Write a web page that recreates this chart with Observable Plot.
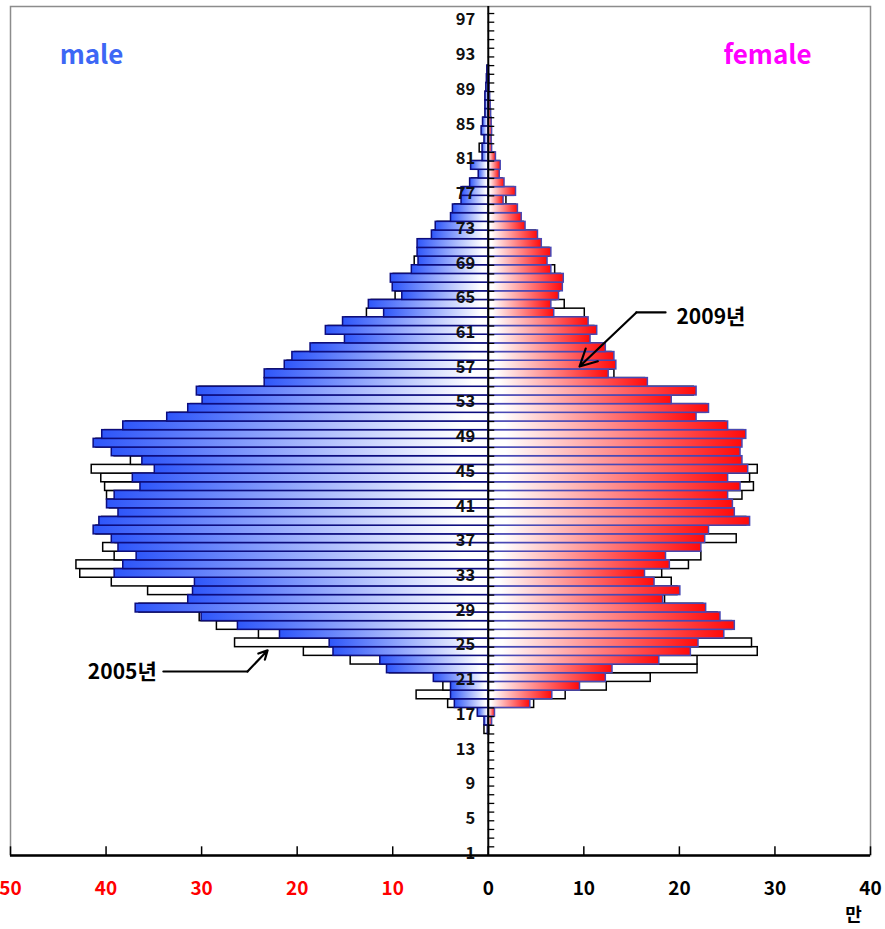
<!DOCTYPE html>
<html>
<head>
<meta charset="utf-8">
<script src="https://cdn.jsdelivr.net/npm/d3@7"></script>
<script src="https://cdn.jsdelivr.net/npm/@observablehq/plot@0.6"></script>
<style>
  html, body { margin: 0; padding: 0; background: #fff; }
</style>
</head>
<body>
<div id="chart"></div>
<script>
// ---- data (population, unit: 만 = 10,000) ----
const ages = [15,16,17,18,19,20,21,22,23,24,25,26,27,28,29,30,31,32,33,34,35,36,37,38,39,40,41,42,43,44,45,46,47,48,49,50,51,52,53,54,55,56,57,58,59,60,61,62,63,64,65,66,67,68,69,70,71,72,73,74,75,76,77,78,79,80,81,82,83,84,85,86,87,88,89,90,91];
const male2009 = [0.05,0.4,1.1,3.5,3.9,3.9,5.7,10.6,11.3,16.2,16.6,21.8,26.2,30.0,36.9,31.4,30.9,30.7,39.1,38.2,36.8,38.7,39.4,41.3,40.7,38.7,39.9,39.1,36.4,37.2,34.9,36.2,39.4,41.3,40.4,38.2,33.6,31.4,29.9,30.5,23.4,23.4,21.3,20.5,18.6,15.0,17.0,15.2,10.9,12.5,9.0,10.0,10.2,8.0,7.3,7.4,7.4,5.9,5.5,3.9,3.7,2.8,2.8,1.9,1.0,1.8,0.6,0.6,0.4,0.7,0.55,0.3,0.3,0.3,0.2,0.15,0.1];
const female2009 = [0.05,0.4,0.7,4.4,6.7,9.6,12.3,13.0,17.9,21.2,22.0,24.7,25.8,24.3,22.8,18.3,20.1,17.4,16.4,19.0,18.6,22.3,22.7,23.1,27.4,25.8,25.6,25.1,26.4,25.1,27.2,26.6,26.4,26.6,27.0,25.1,21.8,23.1,19.2,21.8,16.7,12.6,13.4,13.2,12.3,10.7,11.4,10.5,6.9,6.6,7.4,7.8,7.9,6.6,6.2,6.6,5.6,5.2,3.9,3.5,3.1,1.6,2.9,1.7,1.2,1.3,0.8,0.4,0.35,0.4,0.35,0.3,0.25,0.2,0.15,0.15,0.1];
const male2005 = [0.4,0.3,1.0,4.2,7.5,4.7,5.5,10.3,14.4,19.3,26.5,24.0,28.4,30.2,36.5,31.2,35.6,39.4,42.7,43.1,39.1,40.3,39.0,41.0,40.4,38.4,39.6,39.9,40.1,40.5,41.5,37.4,39.1,41.0,40.1,37.9,33.3,31.1,29.6,30.2,23.1,23.1,21.0,20.2,18.3,14.7,16.7,14.9,12.7,12.2,9.7,9.7,9.9,7.8,7.7,7.2,7.2,5.7,5.3,3.7,3.5,2.6,2.6,1.7,0.9,1.6,0.5,0.9,0.3,0.6,0.5,0.25,0.25,0.25,0.15,0.1,0.05];
const female2005 = [0.1,0.3,0.6,4.8,8.1,12.4,17.0,21.9,21.9,28.2,27.6,24.5,25.5,24.0,22.5,18.5,19.8,19.2,18.2,21.0,22.3,22.0,26.0,22.8,27.0,25.5,25.3,26.6,27.8,27.4,28.2,26.3,26.1,26.3,26.7,24.8,21.5,22.8,18.9,21.5,16.4,13.2,13.1,12.9,12.0,10.4,11.1,10.2,10.1,8.0,7.1,7.5,7.6,7.0,6.0,6.4,5.4,5.0,3.7,3.3,2.9,1.9,2.7,1.5,1.1,1.2,0.7,0.3,0.3,0.3,0.3,0.25,0.2,0.15,0.1,0.1,0.05];

const ageTicks = [1,5,9,13,17,21,25,29,33,37,41,45,49,53,57,61,65,69,73,77,81,85,89,93,97];
const valueTicks = [-50,-40,-30,-20,-10,0,10,20,30,40];
const seriesNames = ["male", "female"];
const unitLabel = "만";
const notes = [
  {label: "2005년", tx: -38.3, ty: 21.85, path: [[-34.0, 21.97], [-25.2, 21.97], [-23.1, 24.4]]},
  {label: "2009년", tx: 23.3, ty: 62.75, path: [[18.55, 63.33], [15.5, 63.33], [9.55, 57.1]]}
];

// ---- build table ----
const rows = ages.map((a, i) => ({age: a, m09: male2009[i], f09: female2009[i], m05: male2005[i], f05: female2005[i]}));
const yMin = 0.77, yMax = 98.58;
const band = 0.23;
const boundaries = d3.range(1, 98).map(k => k + yMin);

const boldFont = "'Noto Sans CJK KR', 'DejaVu Sans', sans-serif";

const svg = Plot.plot({
  width: 885,
  height: 929,
  marginLeft: 10,
  marginRight: 15,
  marginTop: 6,
  marginBottom: 74,
  x: {domain: [-50, 40], axis: null},
  y: {domain: [yMin, yMax], axis: null},
  color: {type: "identity"},
  style: {fontFamily: boldFont, background: "white"},
  marks: [
    Plot.frame({stroke: "#8c8c8c", strokeWidth: 1.5}),
    // 2005 outlines
    Plot.rect(rows, {x1: d => -d.m05, x2: 0, y1: d => d.age - band, y2: d => d.age + 1 - band, fill: "white", stroke: "black", strokeWidth: 1.5}),
    Plot.rect(rows, {x1: 0, x2: d => d.f05, y1: d => d.age - band, y2: d => d.age + 1 - band, fill: "white", stroke: "black", strokeWidth: 1.5}),
    // 2009 bars
    Plot.rect(rows, {x1: d => -d.m09, x2: 0, y1: d => d.age - band, y2: d => d.age + 1 - band, fill: "url(#gMale)", stroke: "#0c0c7e", strokeWidth: 1.5}),
    Plot.rect(rows, {x1: 0, x2: d => d.f09, y1: d => d.age - band, y2: d => d.age + 1 - band, fill: "url(#gFemale)", stroke: "#4848b4", strokeWidth: 1.5}),
    // centre axis
    Plot.ruleX([0], {stroke: "black", strokeWidth: 2}),
    Plot.ruleY(boundaries, {x1: 0, x2: 0.68, stroke: "black", strokeWidth: 1.3}),
    Plot.text(ageTicks, {x: 0, y: d => d, text: d => String(d), dx: -13, textAnchor: "end", fontWeight: "bold", fontSize: 16.5, fill: "#111"}),
    // bottom axis
    Plot.ruleY([yMin], {stroke: "black", strokeWidth: 2.5}),
    Plot.ruleX(valueTicks, {y1: yMin, y2: yMin + 1.0, stroke: "black", strokeWidth: 1.5}),
    Plot.text(valueTicks, {x: d => d, y: yMin, text: d => String(Math.abs(d)), fill: d => d < 0 ? "red" : "black", dy: 33, fontSize: 19, fontWeight: "bold"}),
    Plot.text([unitLabel], {x: 40, y: yMin, text: d => d, dy: 60, dx: -17, fontSize: 18, fontWeight: "bold", fill: "black"}),
    // series labels
    Plot.text([seriesNames[0]], {frameAnchor: "top-left", text: d => d, textAnchor: "middle", lineAnchor: "middle", dx: 81, dy: 49, fontSize: 26, fontWeight: "bold", fill: "#3d67f5"}),
    Plot.text([seriesNames[1]], {frameAnchor: "top-right", text: d => d, textAnchor: "middle", lineAnchor: "middle", dx: -103, dy: 49, fontSize: 26, fontWeight: "bold", fill: "#ff00ff"}),
    // annotations
    ...notes.flatMap(n => [
      Plot.text([n], {x: d => d.tx, y: d => d.ty, text: d => d.label, fontSize: 21, fontWeight: "bold", fill: "black"}),
      Plot.line(n.path.slice(0, 2), {x: d => d[0], y: d => d[1], stroke: "black", strokeWidth: 2.2}),
      Plot.arrow([n.path], {x1: d => d[1][0], y1: d => d[1][1], x2: d => d[2][0], y2: d => d[2][1], stroke: "black", strokeWidth: 2.2, headLength: 13, headAngle: 55})
    ])
  ]
});

d3.select(svg).insert("defs", ":first-child").html(`
  <linearGradient id="gMale" x1="0" y1="0" x2="1" y2="0">
    <stop offset="0" stop-color="rgb(46,86,250)"/>
    <stop offset="0.93" stop-color="#ffffff"/>
    <stop offset="1" stop-color="#ffffff"/>
  </linearGradient>
  <linearGradient id="gFemale" x1="0" y1="0" x2="1" y2="0">
    <stop offset="0" stop-color="#ffffff"/>
    <stop offset="0.07" stop-color="#ffffff"/>
    <stop offset="1" stop-color="rgb(255,10,10)"/>
  </linearGradient>
`);

document.getElementById("chart").appendChild(svg);
</script>
</body>
</html>
